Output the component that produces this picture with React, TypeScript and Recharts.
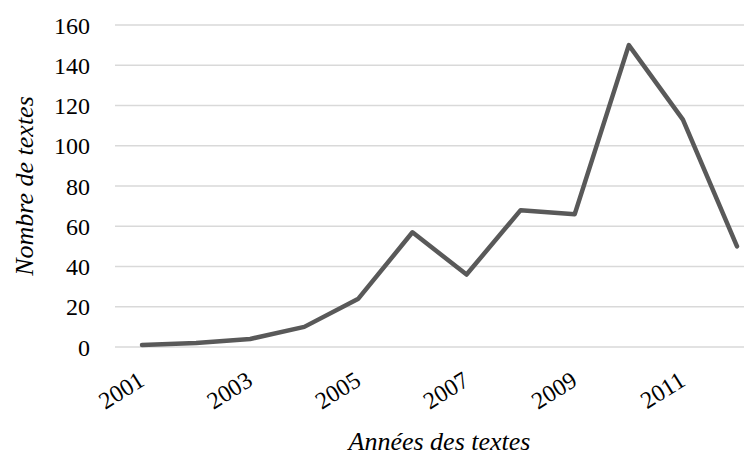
import { LineChart, Line, XAxis, YAxis, CartesianGrid } from "recharts";

const years = ["2001", "2002", "2003", "2004", "2005", "2006", "2007", "2008", "2009", "2010", "2011", "2012"];
const textCounts = [1, 2, 4, 10, 24, 57, 36, 68, 66, 150, 113, 50];
const yTicks = [0, 20, 40, 60, 80, 100, 120, 140, 160];

const data = years.map((year, i) => ({ year, count: textCounts[i] }));

const FONT = "'Liberation Serif', 'Times New Roman', serif";

const App = () => {
    return (
        <div style={{ width: 744, height: 447, overflow: "hidden" }}>
            <LineChart width={770} height={447} data={data} margin={{ top: 17, right: 14, bottom: 0, left: 0 }}>
                <CartesianGrid stroke="#d9d9d9" strokeWidth={1.5} vertical={false} />
                <XAxis
                    dataKey="year"
                    interval={1}
                    padding={{ left: 27, right: 27 }}
                    axisLine={false}
                    tickLine={false}
                    tickSize={8}
                    tickMargin={15}
                    height={108}
                    angle={-32}
                    textAnchor="end"
                    tick={{ fontSize: 24, fontFamily: FONT, fill: "#000", dx: -5 }}
                    label={{
                        value: "Années des textes",
                        position: "insideBottom",
                        offset: 5,
                        style: { fontSize: 26, fontFamily: FONT, fontStyle: "italic", fill: "#000" },
                    }}
                />
                <YAxis
                    domain={[0, 160]}
                    ticks={yTicks}
                    axisLine={false}
                    tickLine={false}
                    tickSize={12}
                    tickMargin={13}
                    width={107}
                    tick={{ fontSize: 24, fontFamily: FONT, fill: "#000" }}
                    label={{
                        value: "Nombre de textes",
                        angle: -90,
                        position: "insideLeft",
                        offset: 16,
                        style: { textAnchor: "middle", fontSize: 26, fontFamily: FONT, fontStyle: "italic", fill: "#000" },
                    }}
                />
                <Line
                    type="linear"
                    dataKey="count"
                    stroke="#595959"
                    strokeWidth={4.5}
                    strokeLinecap="round"
                    strokeLinejoin="round"
                    dot={false}
                    activeDot={false}
                    isAnimationActive={false}
                />
            </LineChart>
        </div>
    );
};

export default App;
